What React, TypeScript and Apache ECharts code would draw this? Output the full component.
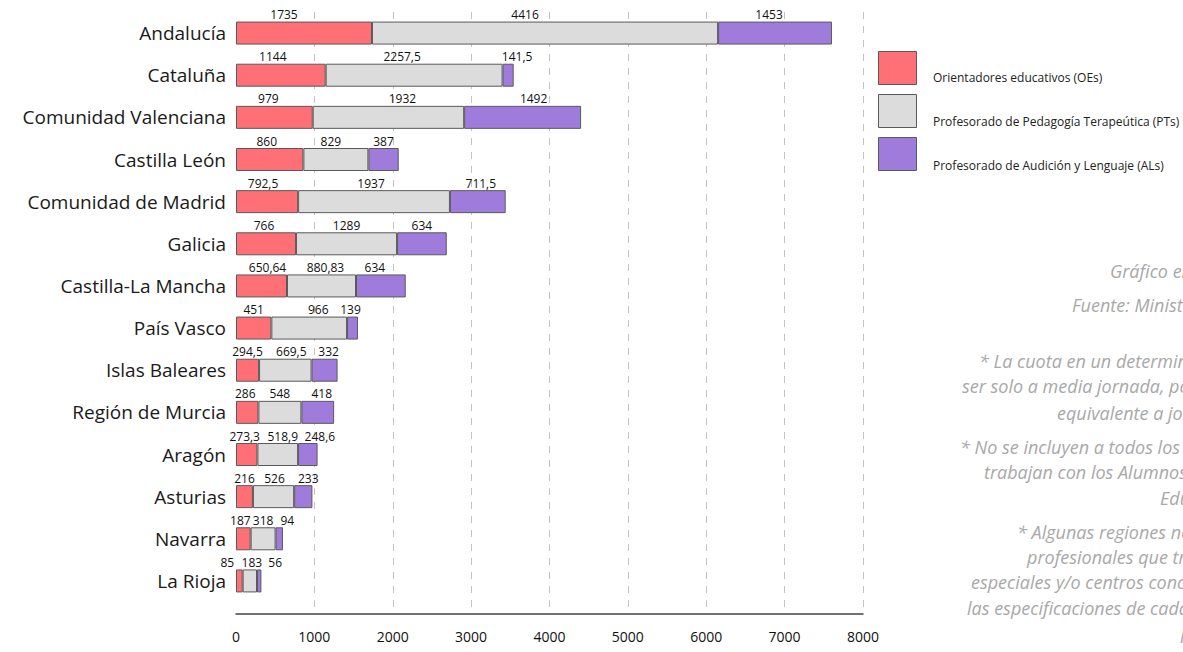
import React, { useEffect, useRef } from "react";
import * as echarts from "echarts";

const regions = [
  "Andalucía",
  "Cataluña",
  "Comunidad Valenciana",
  "Castilla León",
  "Comunidad de Madrid",
  "Galicia",
  "Castilla-La Mancha",
  "País Vasco",
  "Islas Baleares",
  "Región de Murcia",
  "Aragón",
  "Asturias",
  "Navarra",
  "La Rioja",
];

const orientadores = [1735, 1144, 979, 860, 792.5, 766, 650.64, 451, 294.5, 286, 273.3, 216, 187, 85];
const pedagogiaTerapeutica = [4416, 2257.5, 1932, 829, 1937, 1289, 880.83, 966, 669.5, 548, 518.9, 526, 318, 183];
const audicionLenguaje = [1453, 141.5, 1492, 387, 711.5, 634, 634, 139, 332, 418, 248.6, 233, 94, 56];

const seriesNames = [
  "Orientadores educativos (OEs)",
  "Profesorado de Pedagogía Terapeútica (PTs)",
  "Profesorado de Audición y Lenguaje (ALs)",
];
const seriesColors = ["#ff6f76", "#dcdcdc", "#9f7bdc"];

const xTicks = [0, 1000, 2000, 3000, 4000, 5000, 6000, 7000, 8000];

// Horizontal nudges (px) of the value labels, one triple [OE, PT, AL] per region
const labelNudges: Record<string, [number, number, number]> = {
  "Andalucía": [-20, -20, -6],
  "Cataluña": [-8, -12, 9],
  "Comunidad Valenciana": [-6, 14, 11],
  "Castilla León": [-3, -5, 0],
  "Comunidad de Madrid": [-4, -3, 3],
  "Galicia": [-2, 0, 0],
  "Castilla-La Mancha": [6, 4, -6],
  "País Vasco": [0, 9, -2],
  "Islas Baleares": [0, 6, 4],
  "Región de Murcia": [-2, 0, 4],
  "Aragón": [-2, 5, 12],
  "Asturias": [0, 1, 5],
  "Navarra": [-3, 0, 8],
  "La Rioja": [-12, 2, 16],
};

// Side notes: text, left x, vertical centre y
const notes: [string, number, number][] = [
  ["Gráfico elaboración propia", 1110, 275],
  ["Fuente: Ministerio de Educación", 1072, 309],
  ["* La cuota en un determinado centro puede", 979, 365],
  ["ser solo a media jornada, por lo que se ha", 962, 390],
  ["equivalente a jornada completa", 1057, 417],
  ["* No se incluyen a todos los profesionales que", 960, 451],
  ["trabajan con los Alumnos con Necesidades", 984, 476],
  ["Educativas Especiales", 1160, 502],
  ["* Algunas regiones no incluyen a los", 1017, 536],
  ["profesionales que trabajan en aulas", 1027, 561],
  ["especiales y/o centros concertados según", 971, 586],
  ["las especificaciones de cada comunidad", 967, 612],
  ["legislación", 1180, 640],
];

const fmt = (v: number) => String(v).replace(".", ",");

export default function App() {
  const ref = useRef<HTMLDivElement>(null);

  useEffect(() => {
    if (!ref.current) return;
    const chart = echarts.init(ref.current, null, { renderer: "svg" });
    const data = [orientadores, pedagogiaTerapeutica, audicionLenguaje];

    // Legend drawn by hand: swatch on the left, caption sitting low beside it
    const legendGraphics = seriesNames.flatMap((name, i) => [
      {
        type: "rect",
        left: 878,
        top: 51 + i * 43,
        shape: { width: 38, height: 33 },
        style: { fill: seriesColors[i], stroke: "#5a5a5a", lineWidth: 1 },
      },
      {
        type: "text",
        left: 933,
        top: 71 + i * 44,
        style: {
          text: name,
          fontFamily: "Open Sans",
          fontSize: 12,
          fill: "#222",
        },
      },
    ]);

    const noteGraphics = notes.map(([text, x, y]) => ({
      type: "text",
      left: x,
      top: y - 13,
      style: {
        text,
        fontFamily: "Open Sans",
        fontStyle: "italic",
        fontSize: 18,
        fill: "#a8a8a8",
      },
    }));

    chart.setOption({
      animation: false,
      backgroundColor: "#ffffff",
      grid: [
        // bars
        { left: 236, right: 320, top: 12, bottom: 50, containLabel: false },
        // full-height frame carrying the dashed grid and the value axis
        { left: 236, right: 320, top: 12, bottom: 38, containLabel: false },
      ],
      xAxis: [
        {
          type: "value",
          gridIndex: 0,
          min: 0,
          max: 8000,
          interval: 1000,
          show: false,
          splitLine: { show: false },
        },
        {
          type: "value",
          gridIndex: 1,
          min: 0,
          max: 8000,
          interval: 1000,
          axisLine: { show: true, lineStyle: { color: "#444", width: 1.5 } },
          axisTick: { show: false },
          axisLabel: {
            fontFamily: "Open Sans",
            fontSize: 14,
            color: "#111",
            margin: 15,
            formatter: (v: number) => (xTicks.includes(v) ? String(v) : ""),
          },
          splitLine: {
            show: true,
            showMinLine: false,
            lineStyle: { color: "#c4c4c4", type: [7, 7], width: 1 },
          },
        },
      ],
      yAxis: [
        {
          type: "category",
          gridIndex: 0,
          data: regions,
          inverse: true,
          axisLine: { show: false },
          axisTick: { show: false },
          axisLabel: {
            fontFamily: "Open Sans",
            fontSize: 19,
            color: "#1a1a1a",
            margin: 10,
          },
        },
        {
          type: "value",
          gridIndex: 1,
          show: false,
          splitLine: { show: false },
        },
      ],
      series: seriesNames.map((name, i) => ({
        name,
        type: "bar",
        stack: "total",
        xAxisIndex: 0,
        yAxisIndex: 0,
        z: 3,
        barWidth: 23,
        data: data[i].map((v, r) => {
          const nudge = labelNudges[regions[r]];
          return nudge ? { value: v, label: { offset: [nudge[i], 0] } } : v;
        }),
        itemStyle: {
          color: seriesColors[i],
          borderColor: "#5a5a5a",
          borderWidth: 1,
        },
        label: {
          show: true,
          position: "top",
          distance: 1,
          fontFamily: "Open Sans",
          fontSize: 12,
          color: "#111",
          formatter: (p: any) => fmt(p.value),
        },
      })),
      graphic: [...legendGraphics, ...noteGraphics],
    });

    return () => chart.dispose();
  }, []);

  return (
    <div
      ref={ref}
      style={{ position: "absolute", left: 0, top: 0, width: 1183, height: 652 }}
    />
  );
}
